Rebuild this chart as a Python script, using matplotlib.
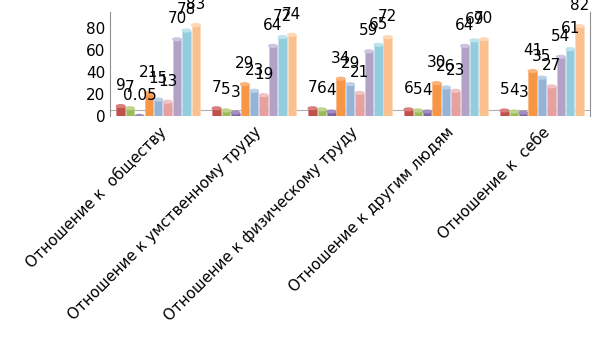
import matplotlib.pyplot as plt
import numpy as np
from matplotlib.patches import Ellipse

# --- Данные ---
categories = ["Отношение к  обществу", "Отношение к умственному труду",
              "Отношение к физическому труду", "Отношение к другим людям",
              "Отношение к  себе"]
s1 = [9, 7, 7, 6, 5]
s2 = [7, 5, 6, 5, 4]
s3 = [0.05, 3, 4, 4, 3]
s4 = [21, 29, 34, 30, 41]
s5 = [15, 23, 29, 26, 35]
s6 = [13, 19, 21, 23, 27]
s7 = [70, 64, 59, 64, 54]
s8 = [78, 72, 65, 69, 61]
s9 = [83, 74, 72, 70, 82]
series = [s1, s2, s3, s4, s5, s6, s7, s8, s9]
colors = ["#c0504d", "#9bbb59", "#8064a2", "#f79646", "#95b3d7",
          "#e6a0a0", "#b3a2c7", "#93cddd", "#fac090"]
caps = ["#d9807e", "#bdd48c", "#a38cc0", "#fbb57c", "#bcd0e8",
        "#f0c4c4", "#cfc3de", "#bfe3ec", "#fdd8b8"]

fig = plt.figure(figsize=(6.05, 3.40), dpi=100)
ax = fig.add_axes([0.182, 0.659, 0.793, 0.306])

x = np.arange(len(categories))
w = 0.098
for i, vals in enumerate(series):
    pos = x - 0.44 + w / 2 + i * w
    ax.bar(pos, vals, width=w * 0.9, color=colors[i], edgecolor=caps[i],
           linewidth=0.4, zorder=2)
    for p, v in zip(pos, vals):
        ax.add_patch(Ellipse((p, v), w * 0.9, 2.5, color=caps[i], zorder=3))
        ax.text(p, v + 12, f"{v:g}", ha="center", va="bottom", fontsize=11,
                zorder=4, clip_on=False)

ax.axhline(5, color="#b0b0b0", lw=0.8, zorder=0)
ax.set_xlim(-0.5, 4.5)
ax.set_ylim(0, 95)
ax.set_yticks([0, 20, 40, 60, 80])
ax.set_xticks(x)
ax.set_xticklabels(categories, rotation=45, ha="right",
                   rotation_mode="anchor", fontsize=10.8)
ax.tick_params(axis="both", length=0, labelsize=11)
ax.tick_params(axis="x", pad=6, labelsize=10.8)
ax.spines["top"].set_visible(False)
ax.spines["bottom"].set_visible(False)
ax.spines["left"].set_color("#909090")
ax.spines["right"].set_color("#909090")

fig.savefig("out.png", dpi=100)
